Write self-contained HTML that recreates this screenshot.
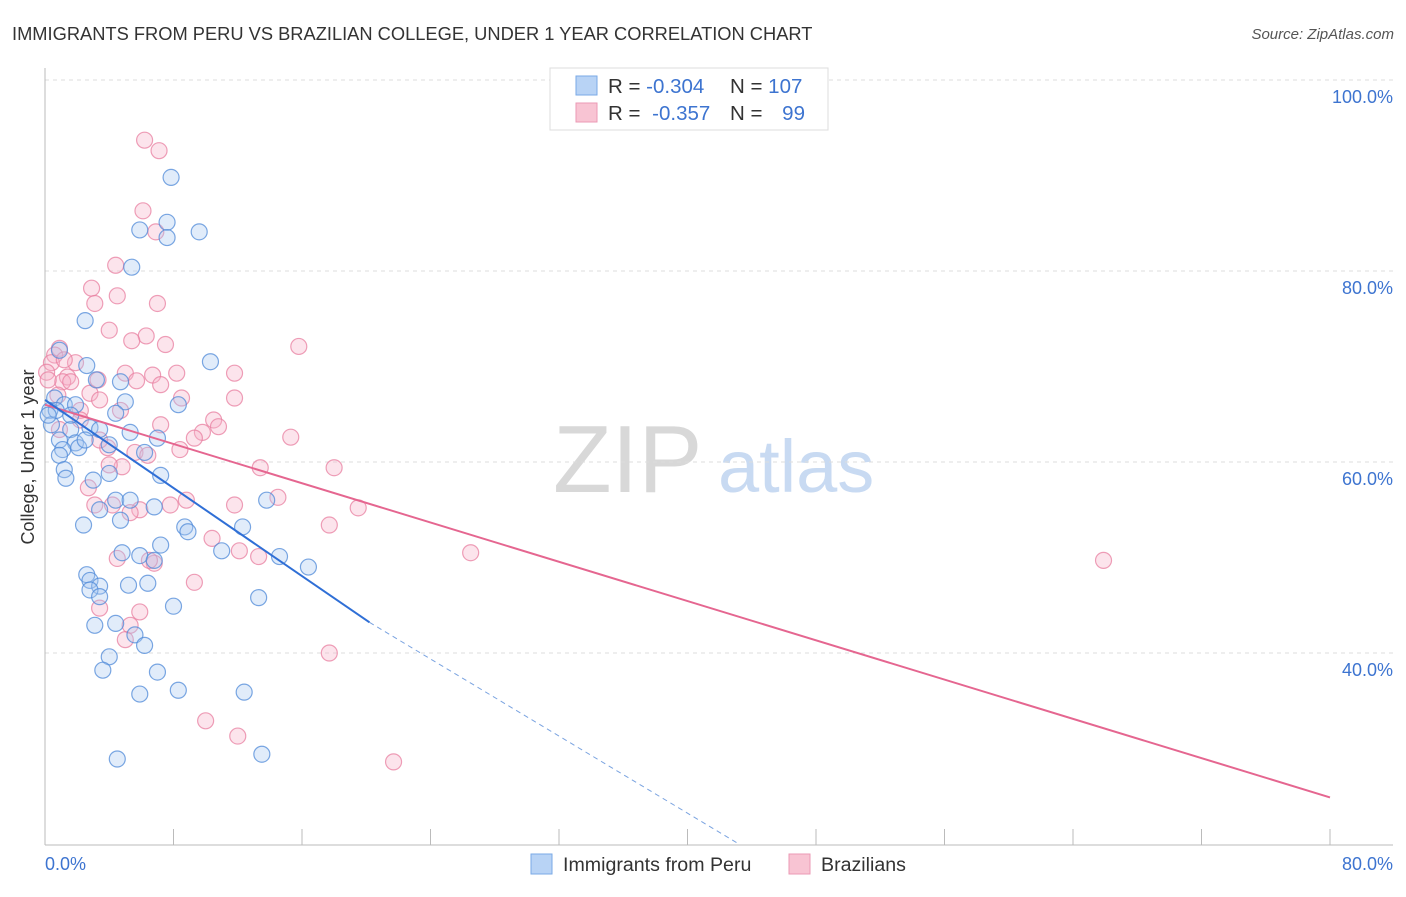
<!DOCTYPE html>
<html><head><meta charset="utf-8"><style>
body{margin:0;background:#fff;font-family:"Liberation Sans",sans-serif;}
svg text{font-family:"Liberation Sans",sans-serif;}
</style></head><body>
<svg id="chart" width="1406" height="892">
<text x="12" y="40" font-size="18.3" fill="#333">IMMIGRANTS FROM PERU VS BRAZILIAN COLLEGE, UNDER 1 YEAR CORRELATION CHART</text>
<text x="1394" y="39" font-size="15" fill="#555" font-style="italic" text-anchor="end">Source: ZipAtlas.com</text>
<g>
<text x="553" y="492" font-size="96" fill="#d8d8d8" font-family="Liberation Serif">ZIP</text>
<text x="718" y="492" font-size="74" fill="#c8daf2">atlas</text>
</g>
<g id="grid"></g>
<g id="axes"></g>
<g id="marks"></g>
<text transform="translate(34,457) rotate(-90)" font-size="18" fill="#333" text-anchor="middle">College, Under 1 year</text>
<g>
<rect x="550" y="68" width="278" height="62" fill="#fff" stroke="#ddd"/>
<rect x="576" y="76" width="21" height="19" fill="#b8d3f5" stroke="#7aa9e6"/>
<rect x="576" y="103" width="21" height="19" fill="#f8c4d3" stroke="#eb9ab5"/>
<text x="608" y="93" font-size="20.5" fill="#333">R = <tspan fill="#3d74d0">-0.304</tspan></text>
<text x="730" y="93" font-size="20.5" fill="#333">N = <tspan fill="#3d74d0">107</tspan></text>
<text x="608" y="120" font-size="20.5" fill="#333">R = <tspan fill="#3d74d0" dx="6">-0.357</tspan></text>
<text x="730" y="120" font-size="20.5" fill="#333">N = <tspan fill="#3d74d0" dx="14">99</tspan></text>
</g>
<g>
<rect x="531" y="854" width="21" height="20" fill="#b8d3f5" stroke="#7aa9e6"/>
<text x="563" y="871" font-size="19.6" fill="#333">Immigrants from Peru</text>
<rect x="789" y="854" width="21" height="20" fill="#f8c4d3" stroke="#eb9ab5"/>
<text x="821" y="871" font-size="19.6" fill="#333">Brazilians</text>
</g>
</svg>
<script>
const xTicksPct=[0,80];
const yTicksPct=[40,60,80,100];
const peruX=[7.85,7.6,5.9,7.6,9.6,5.4,2.5,10.3,2.6,0.9,3.2,4.7,5.0,8.3,0.6,0.3,1.2,1.9,4.4,0.4,1.6,2.8,3.4,5.3,7.0,0.9,1.9,4.0,6.2,1.1,0.9,2.1,1.2,1.3,4.0,7.2,3.0,4.4,5.3,6.8,4.7,3.4,2.4,8.7,8.9,12.3,13.8,7.2,4.8,5.9,6.8,11.0,14.6,16.4,2.6,2.8,3.4,5.2,6.4,2.8,3.4,8.0,13.3,3.1,4.4,5.6,6.2,4.0,3.6,7.0,5.9,8.3,12.4,4.5,13.5,0.7,0.2,1.6,2.5];
const peruY=[89.8,85.1,84.3,83.5,84.1,80.4,74.8,70.5,70.1,71.7,68.6,68.4,66.3,66.0,66.7,65.4,66.0,66.0,65.1,63.9,63.4,63.6,63.4,63.1,62.5,62.3,62.0,61.8,61.0,61.3,60.7,61.5,59.2,58.3,58.8,58.6,58.1,56.0,56.0,55.3,53.9,55.0,53.4,53.2,52.7,53.2,56.0,51.3,50.5,50.2,49.7,50.7,50.1,49.0,48.2,47.6,47.0,47.1,47.3,46.6,45.9,44.9,45.8,42.9,43.1,41.9,40.8,39.6,38.2,38.0,35.7,36.1,35.9,28.9,29.4,65.4,64.9,64.9,62.3];
const brazX=[6.2,7.1,6.1,6.9,4.4,2.9,4.5,3.1,7.0,4.0,6.3,5.4,7.5,15.8,0.9,0.6,0.4,1.9,5.0,6.7,8.2,11.8,1.4,3.3,5.7,7.2,1.1,1.6,8.5,11.8,2.8,3.4,2.2,4.7,10.5,7.2,10.8,9.8,15.3,9.3,3.9,5.6,6.4,13.4,18.0,4.8,2.7,3.1,8.8,11.8,14.5,19.5,5.9,5.3,7.8,17.7,10.4,4.5,12.1,13.3,26.5,65.9,6.8,9.3,3.4,5.9,5.3,5.0,17.7,10.0,12.0,21.7,0.1,0.2,0.8,2.2,3.4,4.2,0.9,8.4,1.2,6.5,4.0];
const brazY=[93.7,92.6,86.3,84.1,80.6,78.2,77.4,76.6,76.6,73.8,73.2,72.7,72.3,72.1,71.9,71.2,70.4,70.4,69.3,69.1,69.3,69.3,68.9,68.6,68.5,68.1,68.4,68.4,66.7,66.7,67.2,66.5,65.4,65.4,64.4,63.9,63.7,63.1,62.6,62.5,61.5,61.0,60.7,59.4,59.4,59.5,57.3,55.5,56.0,55.5,56.3,55.2,55.0,54.7,55.5,53.4,52.0,49.9,50.7,50.1,50.5,49.7,49.4,47.4,44.7,44.3,42.9,41.4,40.0,32.9,31.3,28.6,69.4,68.6,67.0,64.4,62.3,55.5,63.4,61.3,70.7,49.7,59.7];
const peruTrend=[66.5,-1.153]; // intercept, slope
const brazTrend=[66.0,-0.514];
const peruSolidEnd=20.2, peruDashEnd=[43.2,20];

const NS='http://www.w3.org/2000/svg';
const X0=45,X1=1330,Y100=80,PX_PER_PCT_Y=9.55,BOTTOM=845;
const sx=v=>X0+(X1-X0)*v/80;
const sy=v=>Y100+(100-v)*PX_PER_PCT_Y;
function mk(tag,attrs,parent){const e=document.createElementNS(NS,tag);for(const k in attrs)e.setAttribute(k,attrs[k]);parent.appendChild(e);return e;}
const grid=document.getElementById('grid'),axes=document.getElementById('axes'),marks=document.getElementById('marks');
yTicksPct.forEach(t=>{
  const l=mk('line',{x1:X0,x2:1393,y1:sy(t),y2:sy(t),stroke:'#ddd','stroke-dasharray':'4,4'},grid);
  
  
  const tx=mk('text',{x:1393,y:sy(t)+23,'font-size':18,fill:'#3d74d0','text-anchor':'end'},axes);
  tx.textContent=t.toFixed(1)+'%';
  
  
});
const ax=mk('line',{x1:X0,x2:X0,y1:68,y2:BOTTOM,stroke:'#bbb'},axes);


const bx=mk('line',{x1:X0,x2:1393,y1:BOTTOM,y2:BOTTOM,stroke:'#bbb'},axes);


for(let i=0;i<=10;i++){
  const t=mk('line',{x1:sx(i*8),x2:sx(i*8),y1:829,y2:BOTTOM,stroke:'#bbb'},axes);
  
  
}
xTicksPct.forEach((t,i)=>{
  const tx=mk('text',{x:i==0?sx(t):1393,y:870,'font-size':18,fill:'#3d74d0','text-anchor':i==0?'start':'end'},axes);
  tx.textContent=t.toFixed(1)+'%';
  
  
});
function dots(xs,ys,fill,stroke,name){
  xs.forEach((x,i)=>{
    const c=mk('circle',{cx:sx(x),cy:sy(ys[i]),r:8,fill:fill,'fill-opacity':0.35,stroke:stroke,'stroke-opacity':0.75,'stroke-width':1.2},marks);
    
    
  });
}
dots(brazX,brazY,'#f5b3c8','#e87fa0','brazilians-point');
dots(peruX,peruY,'#a9c9f2','#4f8ad8','peru-point');
const ty=(tr,x)=>tr[0]+tr[1]*x;
const pl=mk('line',{x1:sx(0),y1:sy(ty(brazTrend,0)),x2:sx(80),y2:sy(ty(brazTrend,80)),stroke:'#e56690','stroke-width':2},marks);


const bl=mk('line',{x1:sx(0),y1:sy(ty(peruTrend,0)),x2:sx(peruSolidEnd),y2:sy(ty(peruTrend,peruSolidEnd)),stroke:'#2f6fd6','stroke-width':2},marks);


const bd=mk('line',{x1:sx(peruSolidEnd),y1:sy(ty(peruTrend,peruSolidEnd)),x2:sx(peruDashEnd[0]),y2:sy(peruDashEnd[1]),stroke:'#7aa3e0','stroke-width':1,'stroke-dasharray':'5,4'},marks);


</script>
</body></html>
